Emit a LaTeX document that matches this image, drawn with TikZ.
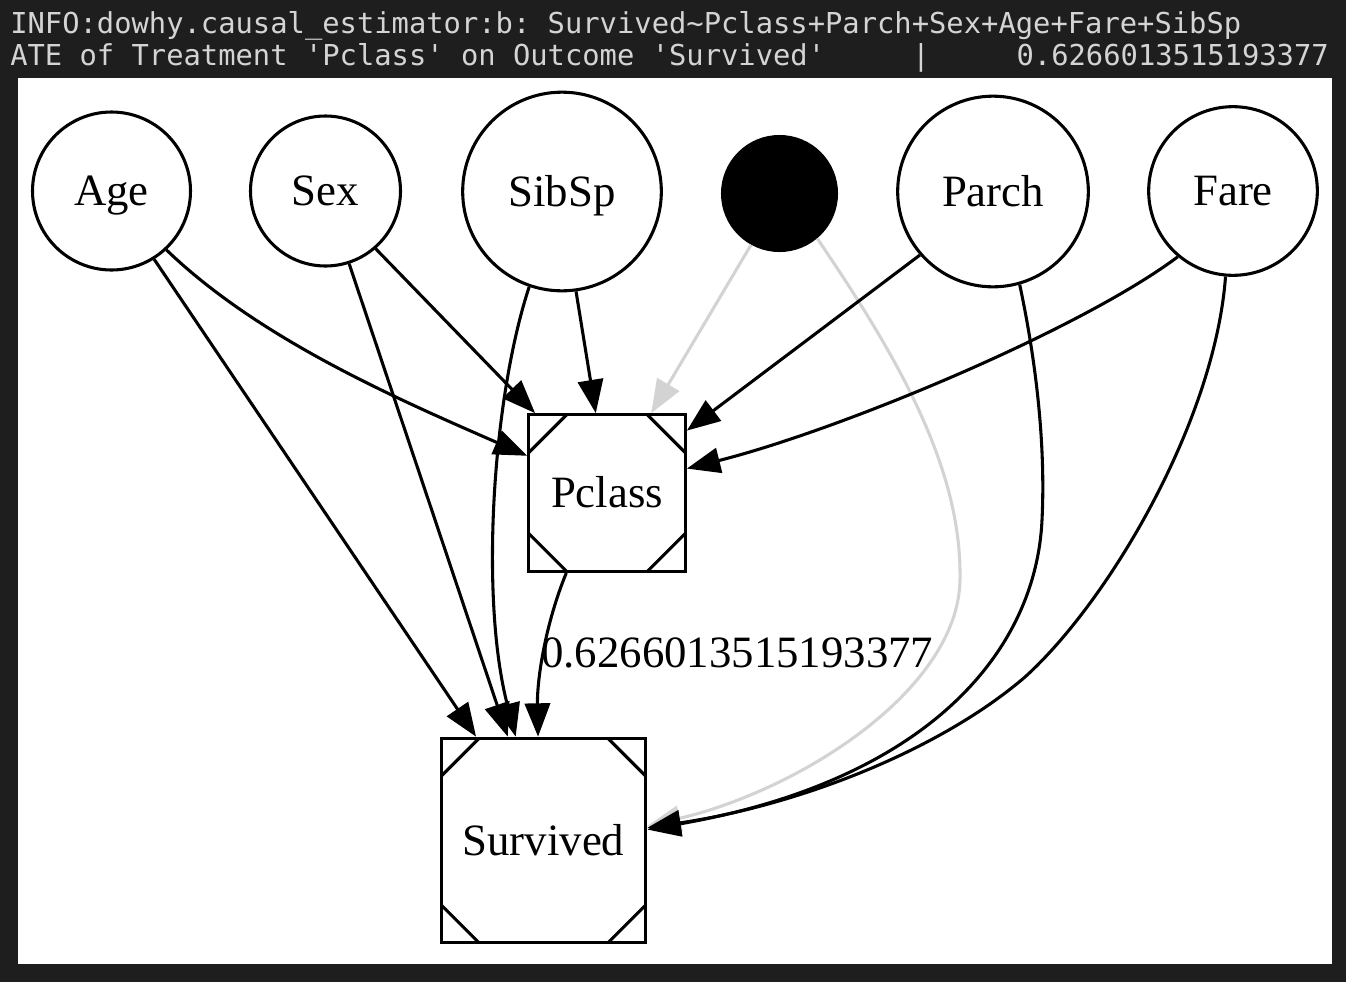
\documentclass[tikz,border=0pt]{standalone}
\usepackage{fontspec}
\setmainfont{Liberation Serif}
\newfontfamily\termfont{DejaVu Sans Mono}
\usetikzlibrary{arrows.meta}
\definecolor{termbg}{HTML}{1E1E1E}
\definecolor{termfg}{HTML}{D4D4D4}
\definecolor{edgegray}{HTML}{D3D3D3}
\begin{document}
\begin{tikzpicture}[x=0.75pt,y=-0.75pt,
  every node/.style={inner sep=0pt},
  lw/.style={line width=2.3pt},
  vnode/.style={circle, draw, lw, minimum size=#1, font=\fontsize{33.6}{40}\selectfont, text height=22pt, text depth=0pt},
  msq/.style={rectangle, draw, lw, minimum size=#1, font=\fontsize{33.6}{40}\selectfont, text height=22pt, text depth=0pt,
    path picture={
      \draw[lw] ([xshift=28.5pt]path picture bounding box.north west) -- ([yshift=-28.5pt]path picture bounding box.north west);
      \draw[lw] ([xshift=-28.5pt]path picture bounding box.north east) -- ([yshift=-28.5pt]path picture bounding box.north east);
      \draw[lw] ([xshift=28.5pt]path picture bounding box.south west) -- ([yshift=28.5pt]path picture bounding box.south west);
      \draw[lw] ([xshift=-28.5pt]path picture bounding box.south east) -- ([yshift=28.5pt]path picture bounding box.south east);
    }},
  arr/.style={lw, -{Triangle[length=25pt,width=19pt]}},
  garr/.style={arr, draw=edgegray},
  term/.style={anchor=base west, text=termfg, font=\termfont\fontsize{21.6}{25}\selectfont\frenchspacing}
]
\useasboundingbox (0,0) rectangle (1346,982);
\fill[termbg] (0,0) rectangle (1346,982);
\fill[white] (18,78) rectangle (1332,964);

% terminal text
\node[term] (l1) at (10,33) {INFO:dowhy.causal\_estimator:b: Survived\textasciitilde Pclass+Parch+Sex+Age+Fare+SibSp};
\node[term] (l2a) at (10,65) {ATE of Treatment \textquotesingle Pclass\textquotesingle\ on Outcome \textquotesingle Survived\textquotesingle};
\node[term, anchor=base] (l2b) at (921,65) {|};
\node[term, anchor=base east] (l2c) at (1329,65) {0.6266013515193377};

% nodes
\node[vnode=118.5pt] (age) at (111.5,191) {Age};
\node[vnode=112.5pt] (sex) at (325.5,191) {Sex};
\node[vnode=149pt] (sibsp) at (562,191.5) {SibSp};
\node[vnode=85.5pt, fill=black] (blk) at (779.5,193.5) {};
\node[vnode=143pt] (parch) at (993,191.5) {Parch};
\node[vnode=126.5pt] (fare) at (1233,191) {Fare};
\node[msq=117.5pt] (pclass) at (607,493) {Pclass};
\node[msq=153.5pt] (survived) at (543.5,840.5) {Survived};

% edges
\draw[arr] (age.-47) .. controls (260,340) and (400,400) .. (pclass.155);
\draw[arr] (age.-58) -- (survived.123);
\draw[arr] (sex.-49) -- (pclass.132);
\draw[arr] (sex.-72) -- (survived.109);
\draw[arr] (sibsp.-82) -- (pclass.98);
\draw[arr] (sibsp.-109) .. controls (492,400) and (480,600) .. (survived.105);
\draw[garr] (blk.-119) -- (pclass.61);
\draw[garr] (blk.-50) .. controls (900,360) and (962,470) .. (960,580) .. controls (958,690) and (800,790) .. (survived.8);
\draw[arr] (parch.-139) -- (pclass.38);
\draw[arr] (parch.-74) .. controls (1040,380) and (1045,460) .. (1042,520) .. controls (1036,650) and (930,780) .. (survived.6);
\draw[arr] (fare.-130) .. controls (1080,330) and (840,430) .. (pclass.17);
\draw[arr] (fare.-95) .. controls (1215,420) and (1110,600) .. (1025,677) .. controls (940,750) and (800,805) .. (survived.7);
\draw[arr] (pclass.-117) .. controls (545,625) and (537,680) .. (survived.93);
\node[anchor=base west, font=\fontsize{33.6}{40}\selectfont] (lbl) at (541,667) {0.6266013515193377};
\end{tikzpicture}
\end{document}
